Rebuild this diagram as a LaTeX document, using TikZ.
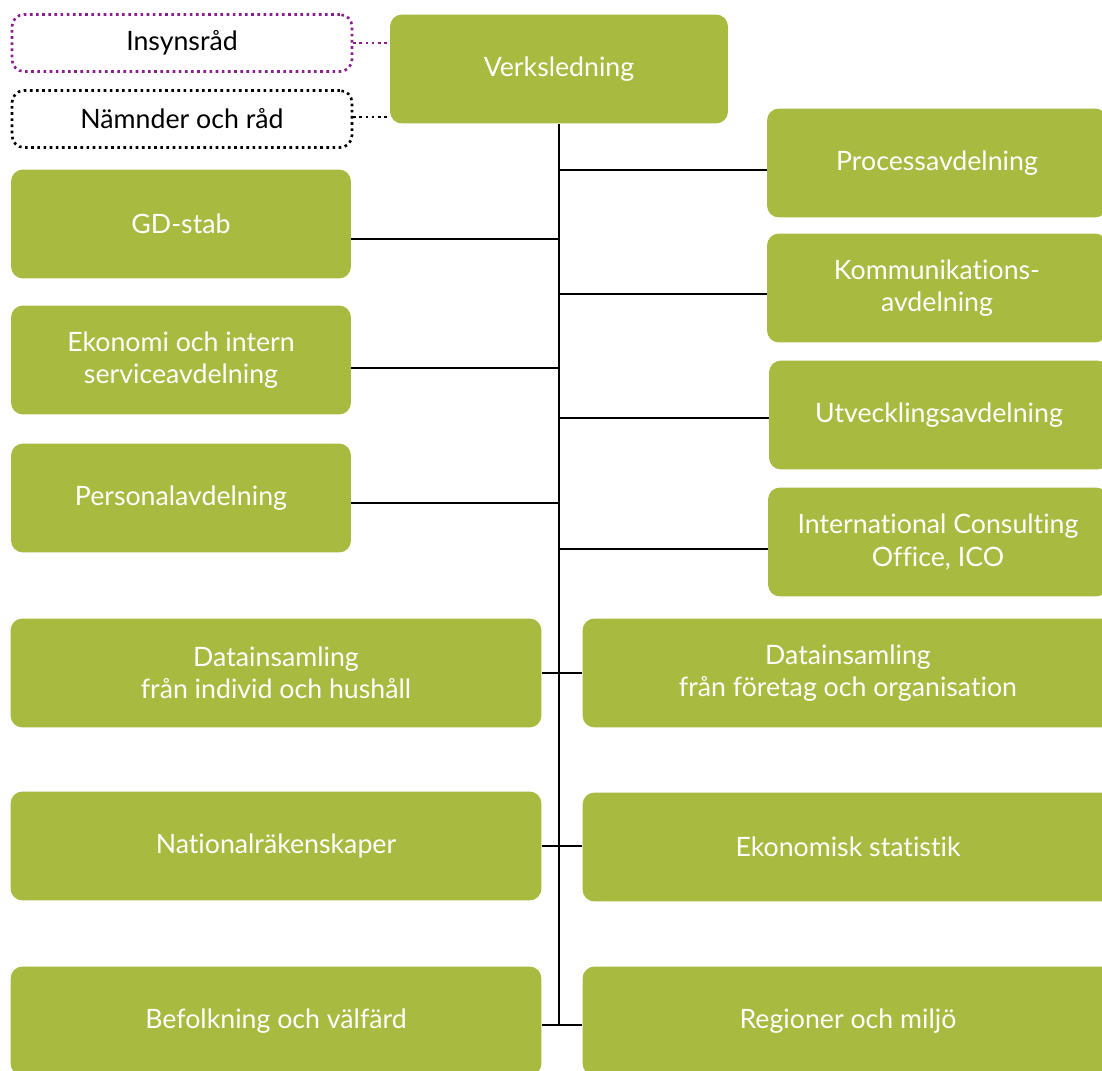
\documentclass[tikz,border=0pt]{standalone}
\usepackage{fontspec}
\setmainfont{Lato}[Ligatures={NoCommon,NoRare,NoDiscretionary}]
\usepackage{tikz}
\definecolor{scbGreen}{RGB}{168,186,64}
\definecolor{scbPurple}{RGB}{140,30,140}
\tikzset{
  every picture/.style={font={\fontsize{15.2}{18.5}\selectfont}},
  every node/.style={inner sep=0pt}}

\begin{document}
\begin{tikzpicture}[
    x=0.02cm, y=-0.02cm,
    unit/.style={
      fill=scbGreen, text=white,
      align=center, rounded corners=0.24cm,
      minimum width=6.8cm, minimum height=2.18cm},
    wide/.style={unit, minimum width=10.62cm},
    council/.style={
      draw, dotted, line width=1.5pt, rounded corners=0.24cm,
      align=center, minimum width=6.8cm, minimum height=1.14cm},
    branch/.style={line width=0.6pt}]

    \useasboundingbox (0,0) rectangle (1102,1071);

    \node[unit, minimum width=6.76cm] (verks) at (559, 69) {Verksledning};

    \node[council, draw=scbPurple] (insyn) at (182, 43) {Insynsråd};
    \node[council, draw=black] (namnd) at (182, 119) {Nämnder och råd};

    \node[unit] (gdstab)   at (181, 224) {GD-stab};
    \node[unit] (ekonomi)  at (181, 360) {Ekonomi och intern\\serviceavdelning};
    \node[unit] (personal) at (181, 498) {Personalavdelning};

    \node[unit] (process)  at (937, 163) {Processavdelning};
    \node[unit] (kommun)   at (937, 288) {Kommunikations-\\avdelning};
    \node[unit] (utveckl)  at (939, 415) {Utvecklingsavdelning};
    \node[unit] (ico)      at (938, 542) {International Consulting\\Office, ICO};

    \node[wide] (dataInd)  at (276, 673)  {Datainsamling\\från individ och hushåll};
    \node[wide] (dataFtg)  at (848, 673)  {Datainsamling\\från företag och organisation};
    \node[wide] (natrak)   at (276, 846)  {Nationalräkenskaper};
    \node[wide] (ekstat)   at (848, 847)  {Ekonomisk statistik};
    \node[wide] (befolk)   at (276, 1021) {Befolkning och välfärd};
    \node[wide] (region)   at (848, 1021) {Regioner och miljö};

    \draw[scbPurple, dotted, line width=1.5pt] (insyn.east) -- (insyn.east -| verks.west);
    \draw[black, dotted, line width=1.5pt] ([yshift=0.04cm]namnd.east) -- ([yshift=0.04cm]namnd.east -| verks.west);

    \draw[branch] (verks.south) -- ([yshift=-0.08cm]verks.south |- befolk.east);

    \foreach \n/\s in {gdstab/-0.3, ekonomi/-0.16, personal/-0.1}
      \draw[branch] ([yshift=\s cm]\n.east) -- ([yshift=\s cm]\n.east -| verks.south);
    \foreach \n/\s in {process/-0.14, kommun/-0.12, utveckl/-0.06, ico/-0.14}
      \draw[branch] ([yshift=\s cm]\n.west) -- ([yshift=\s cm]\n.west -| verks.south);

    \draw[branch] (dataInd.east) -- (dataFtg.west);
    \draw[branch] (natrak.east) -- (natrak.east -| ekstat.west);
    \draw[branch] ([yshift=-0.08cm]befolk.east) -- ([yshift=-0.08cm]region.west);
  \end{tikzpicture}
\end{document}
